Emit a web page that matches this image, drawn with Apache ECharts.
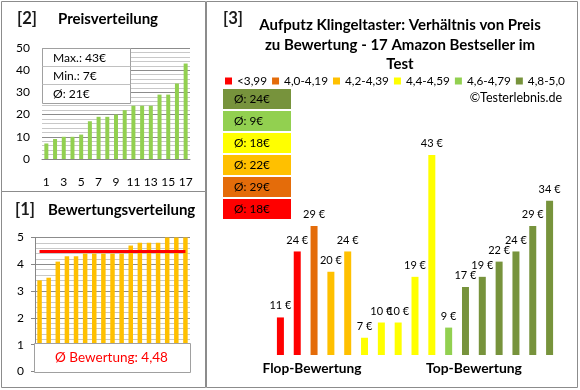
<!DOCTYPE html>
<html>
<head>
<meta charset="utf-8">
<script src="https://cdn.jsdelivr.net/npm/echarts@6/dist/echarts.min.js"></script>
<style>
html,body{margin:0;padding:0;background:#fff;}
#c{width:580px;height:390px;}
</style>
</head>
<body>
<div id="c"></div>
<script>
// ---- data ----
var priceCategories = ['1','2','3','4','5','6','7','8','9','10','11','12','13','14','15','16','17'];
var pricesSorted = [7, 9, 10, 10, 11, 17, 19, 19, 20, 22, 24, 24, 24, 29, 29, 34, 43];
var priceMax = 43, priceMin = 7, priceAvg = 21;

var ratingsSorted = [3.4, 3.5, 4.1, 4.3, 4.3, 4.4, 4.4, 4.4, 4.4, 4.4, 4.7, 4.8, 4.8, 4.8, 5.0, 5.0, 5.0];
var ratingAvg = 4.48;

var productPrices = [11, 24, 29, 20, 24, 7, 10, 10, 19, 43, 9, 17, 19, 22, 24, 29, 34];
var groupNames = ['<3,99', '4,0-4,19', '4,2-4,39', '4,4-4,59', '4,6-4,79', '4,8-5,0'];
var groupLower = [0, 4.0, 4.2, 4.4, 4.6, 4.8];
var groupColors = ['#FF0000', '#E46C0A', '#FFC000', '#FFFF00', '#92D050', '#77933C'];
var groupAvgPrices = [18, 29, 22, 18, 9, 24];

var FONT = 'Lato, "Open Sans", sans-serif';

// font-size fitting helper (layout only)
var mctx = document.createElement('canvas').getContext('2d');
function fit(text, weight, targetW) {
  mctx.font = (weight || 'normal') + ' 20px ' + FONT;
  var w = mctx.measureText(text).width;
  return Math.round(20 * targetW / w * 10) / 10;
}

function groupOf(r) {
  var g = 0;
  for (var i = 0; i < groupLower.length; i++) if (r >= groupLower[i]) g = i;
  return g;
}

var chart = echarts.init(document.getElementById('c'), null, {renderer: 'canvas'});

var barLabelSize = fit('11 €', 'normal', 22);
var panel3Series = groupNames.map(function (name, gi) {
  return {
    name: name,
    type: 'bar',
    xAxisIndex: 2, yAxisIndex: 2,
    stack: 'p3',
    barWidth: 7,
    itemStyle: {color: groupColors[gi]},
    label: {
      show: true, position: 'top', distance: 6,
      formatter: '{c} €', color: '#000', fontSize: barLabelSize, fontFamily: FONT
    },
    labelLayout: {hideOverlap: false},
    data: productPrices.map(function (p, i) {
      return groupOf(ratingsSorted[i]) === gi ? p : '-';
    })
  };
});

// graphics: panel frames, titles, boxes
var graphics = [];
var frameStyle = {stroke: '#8c8c8c', fill: 'none', lineWidth: 1};
graphics.push({type: 'rect', shape: {x: 1.5, y: 1.5, width: 204, height: 190}, style: frameStyle, z: 100});
graphics.push({type: 'rect', shape: {x: 1.5, y: 191.5, width: 204, height: 196}, style: frameStyle, z: 100});
graphics.push({type: 'rect', shape: {x: 206.5, y: 1.5, width: 371, height: 386}, style: frameStyle, z: 100});

function txt(x, y, text, size, weight, color, align) {
  return {type: 'text', x: x, y: y, z: 100,
    style: {text: text, fontSize: size, fontWeight: weight || 'normal', fill: color || '#000',
      fontFamily: FONT, align: align || 'left', verticalAlign: 'middle'}};
}
function ftxt(x, y, text, weight, targetW, color, align) {
  return txt(x, y, text, fit(text, weight, targetW), weight, color, align);
}
graphics.push(ftxt(17, 19, '[2]', 'bold', 20, '#1a1a1a'));
graphics.push(ftxt(58, 19, 'Preisverteilung', 'bold', 100, '#000'));
graphics.push(ftxt(15, 210, '[1]', 'bold', 20, '#1a1a1a'));
graphics.push(ftxt(48, 210, 'Bewertungsverteilung', 'bold', 147, '#000'));
graphics.push(ftxt(223, 19, '[3]', 'bold', 20, '#1a1a1a'));
var t1 = 'Aufputz Klingeltaster: Verhältnis von Preis';
var tSize = fit(t1, 'bold', 281);
graphics.push(txt(400, 25, t1, tSize, 'bold', '#000', 'center'));
graphics.push(txt(400, 45, 'zu Bewertung - 17 Amazon Bestseller im', tSize, 'bold', '#000', 'center'));
graphics.push(txt(400, 64, 'Test', tSize, 'bold', '#000', 'center'));
graphics.push(ftxt(562, 98, '©Testerlebnis.de', 'normal', 92, '#000', 'right'));
graphics.push(ftxt(312, 369, 'Flop-Bewertung', 'bold', 99, '#000', 'center'));
graphics.push(ftxt(474, 369, 'Top-Bewertung', 'bold', 96, '#000', 'center'));

// panel 2 stats box
var statLines = ['Max.: ' + priceMax + '€', 'Min.: ' + priceMin + '€', 'Ø: ' + priceAvg + '€'];
var statSize = fit(statLines[0], 'normal', 53);
var rowY = [48.5, 66.5, 84.5, 103.5];
graphics.push({type: 'rect', z: 90, shape: {x: 42.5, y: 48.5, width: 88, height: 55}, style: {fill: '#fff', stroke: '#a0a0a0', lineWidth: 1}});
for (var k = 0; k < 3; k++) {
  if (k > 0) graphics.push({type: 'line', z: 91, shape: {x1: 42.5, y1: rowY[k], x2: 130.5, y2: rowY[k]}, style: {stroke: '#c0c0c0', lineWidth: 1}});
  graphics.push(txt(53, (rowY[k] + rowY[k + 1]) / 2 + 0.5, statLines[k], statSize, 'normal', '#000'));
}

// panel 1 rating box
graphics.push({type: 'rect', z: 90, shape: {x: 34.5, y: 343.5, width: 156, height: 29}, style: {fill: '#fff', stroke: '#a0a0a0', lineWidth: 1}});
var avgText = 'Ø Bewertung: ' + String(ratingAvg).replace('.', ',');
graphics.push(ftxt(111.5, 358, avgText, 'normal', 113, '#FF0000', 'center'));

// panel 3 group average boxes (top: best group)
var boxSize = fit('Ø: 24€', 'normal', 36);
for (var j = 0; j < 6; j++) {
  var gi = 5 - j;
  var by = 89 + j * 22;
  graphics.push({type: 'rect', z: 90, shape: {x: 223, y: by, width: 68, height: 20}, style: {fill: groupColors[gi]}});
  graphics.push(txt(234, by + 10.5, 'Ø: ' + groupAvgPrices[gi] + '€', boxSize, 'normal', '#000'));
}

var legendSize = fit('4,0-4,19', 'normal', 44);

var option = {
  animation: false,
  backgroundColor: '#fff',
  textStyle: {fontFamily: FONT},
  legend: {
    data: groupNames,
    left: 220, top: 70, width: 400,
    itemWidth: 7, itemHeight: 7, itemGap: 5,
    icon: 'rect',
    textStyle: {fontSize: legendSize, color: '#000', fontFamily: FONT, padding: [0, 0, 0, 0]}
  },
  grid: [
    {left: 42, right: 390, top: 48, bottom: 231},
    {left: 35, right: 390, top: 237.5, bottom: 18.5},
    {left: 272, right: 22, top: 119.5, bottom: 35}
  ],
  xAxis: [
    {type: 'category', gridIndex: 0, data: priceCategories,
      axisLine: {lineStyle: {color: '#868686'}}, axisTick: {show: false},
      axisLabel: {interval: 1, color: '#000', fontSize: 12, margin: 17, fontFamily: FONT}},
    {type: 'category', gridIndex: 1, data: priceCategories,
      axisLine: {show: false}, axisTick: {show: false}, axisLabel: {show: false}},
    {type: 'category', gridIndex: 2, data: priceCategories, show: false}
  ],
  yAxis: [
    {type: 'value', gridIndex: 0, min: 0, max: 50, interval: 10,
      axisLine: {show: false}, axisTick: {show: false},
      axisLabel: {color: '#000', fontSize: 12, margin: 12, fontFamily: FONT},
      splitLine: {lineStyle: {color: '#8c8c8c'}},
      minorTick: {show: false, splitNumber: 5},
      minorSplitLine: {show: true, lineStyle: {color: '#c8c8c8'}}},
    {type: 'value', gridIndex: 1, min: 0, max: 5, interval: 1,
      axisLine: {show: true, lineStyle: {color: '#868686'}},
      axisTick: {show: true, inside: false, length: 4, lineStyle: {color: '#868686'}},
      axisLabel: {color: '#000', fontSize: 12, margin: 11, fontFamily: FONT},
      splitLine: {lineStyle: {color: '#8c8c8c'}},
      minorTick: {show: false, splitNumber: 5},
      minorSplitLine: {show: true, lineStyle: {color: '#c8c8c8'}}},
    {type: 'value', gridIndex: 2, min: 3.6, max: 50, show: false, splitLine: {show: false}}
  ],
  series: [
    {type: 'bar', xAxisIndex: 0, yAxisIndex: 0, barWidth: 4, data: pricesSorted,
      itemStyle: {color: '#92D050'}},
    {type: 'bar', xAxisIndex: 1, yAxisIndex: 1, barWidth: 4.5, data: ratingsSorted,
      itemStyle: {color: '#FFC000'},
      markLine: {silent: true, symbol: 'none', label: {show: false},
        lineStyle: {color: '#FF0000', width: 3, type: 'solid'},
        data: [[{xAxis: 0, yAxis: ratingAvg}, {xAxis: priceCategories.length - 1, yAxis: ratingAvg}]]}}
  ].concat(panel3Series),
  graphic: graphics
};
chart.setOption(option);
</script>
</body>
</html>
